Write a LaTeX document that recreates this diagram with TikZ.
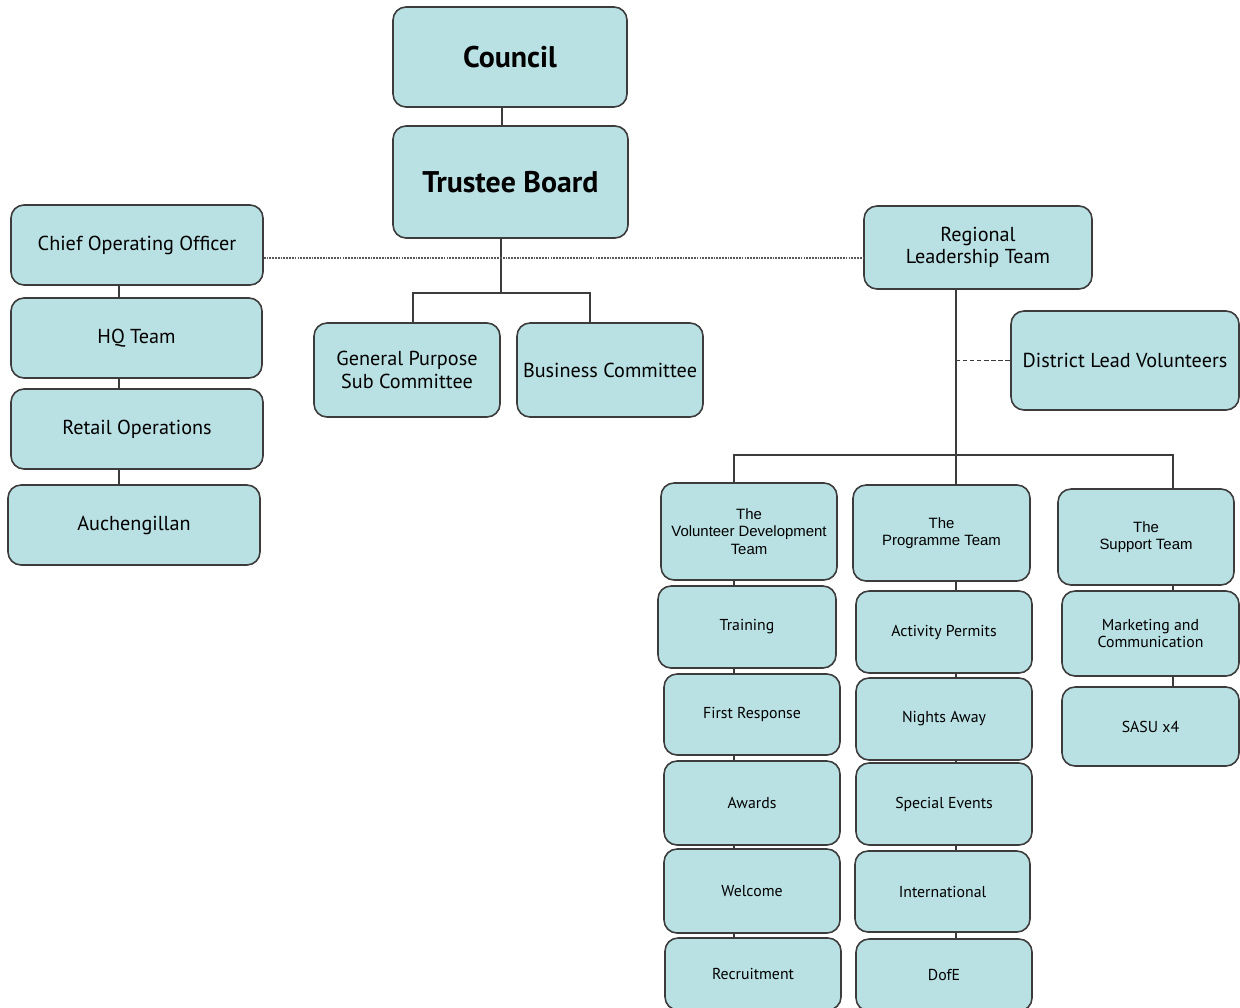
\documentclass[tikz,border=0pt]{standalone}
\usepackage{fontspec}
\setmainfont{PT Sans}
\newfontfamily\arialfont{Liberation Sans}
\definecolor{boxfill}{RGB}{185,224,227}
\definecolor{boxline}{RGB}{60,60,60}

\tikzset{
  box/.style={draw=boxline, fill=boxfill, line width=0.9pt, rounded corners=0.26cm,
    align=center, inner sep=0pt},
  wh/.style 2 args={minimum width=#1*0.02cm, minimum height=#2*0.02cm},
  bigbox/.style={box, font=\fontsize{17}{19}\selectfont\bfseries},
  midbox/.style={box, font=\fontsize{11.5}{12.8}\selectfont},
  smallbox/.style={box, font=\fontsize{9}{10}\selectfont},
  headbox/.style={box, font=\arialfont\fontsize{8.5}{10}\selectfont},
  link/.style={draw=boxline, line width=0.6pt},
  dotline/.style={draw=black!65, line width=0.8pt, dash pattern=on 1pt off 0.6pt},
  dashline/.style={draw=boxline, line width=0.6pt, dash pattern=on 2.5pt off 1.5pt},
}

\begin{document}
\begin{tikzpicture}[x=0.02cm, y=-0.02cm]
\useasboundingbox (0,0) rectangle (1240,1007);
\clip (0,0) rectangle (1240,1007);
%
\coordinate (colT) at (502,0);
\coordinate (colL) at (119,0);
\coordinate (colA) at (734,0);
\coordinate (colB) at (956,0);
\coordinate (colC) at (1173,0);
\coordinate (gpx) at (413,0);
\coordinate (bcx) at (590,0);
\coordinate (fork) at (501,293);
\coordinate (bar) at (956,455);
\coordinate (dotrow) at (0,258);
%
\node[bigbox, wh={234}{100}] (council) at (510,57) {Council};
\node[bigbox, wh={235}{112}] (trustee) at (510.5,182) {Trustee Board};
%
\node[midbox, wh={252}{80}] (coo) at (137,245) {Chief Operating Officer};
\node[midbox, wh={251}{80}] (hq) at (136.5,338) {HQ Team};
\node[midbox, wh={252}{80}] (retail) at (137,429) {Retail Operations};
\node[midbox, wh={252}{80}] (auch) at (134,525) {Auchengillan};
%
\node[midbox, wh={186}{94}] (gp) at (407,370) {General Purpose\\Sub Committee};
\node[midbox, wh={186}{94}] (bc) at (610,370) {Business Committee};
%
\node[midbox, wh={228}{83}] (rlt) at (978,247.5) {Regional\\Leadership Team};
\node[midbox, wh={228}{99}] (dlv) at (1125,360.5) {District Lead Volunteers};
%
\node[headbox, wh={176}{97}] (vdt) at (749,531.5) {The\\Volunteer Development\\Team};
\node[headbox, wh={177}{96}] (prog) at (941.5,533) {The\\Programme Team};
\node[headbox, wh={176}{96}] (supp) at (1146,537) {The\\Support Team};
%
\node[smallbox, wh={178}{82}] (train) at (747,627) {Training};
\node[smallbox, wh={176}{81}] (first) at (752,714.5) {First Response};
\node[smallbox, wh={176}{84}] (awards) at (752,803) {Awards};
\node[smallbox, wh={176}{84}] (welcome) at (752,891) {Welcome};
\node[smallbox, wh={176}{72}] (recruit) at (753,974) {Recruitment};
%
\node[smallbox, wh={176}{82}] (perm) at (944,632) {Activity Permits};
\node[smallbox, wh={176}{82}] (nights) at (944,719) {Nights Away};
\node[smallbox, wh={176}{82}] (special) at (944,804) {Special Events};
\node[smallbox, wh={175}{81}] (intl) at (942.5,891.5) {International};
\node[smallbox, wh={176}{72}] (dofe) at (944,975) {DofE};
%
\node[smallbox, wh={177}{85}] (mkt) at (1150.5,633.5) {Marketing and\\Communication};
\node[smallbox, wh={177}{79}] (sasu) at (1150.5,726.5) {SASU x4};
%
% board links
\draw[link] (council.south -| colT) -- (trustee.north -| colT);
\draw[link] (trustee.south -| fork) -- (fork);
\draw[link] (gp.north -| gpx) |- (fork) -| (bc.north -| bcx);
\draw[dotline] (coo.east |- dotrow) -- (rlt.west |- dotrow);
%
% left column
\draw[link] (coo.south -| colL) -- (hq.north -| colL);
\draw[link] (hq.south -| colL) -- (retail.north -| colL);
\draw[link] (retail.south -| colL) -- (auch.north -| colL);
%
% regional teams
\draw[link] (rlt.south -| colB) -- (prog.north -| colB);
\draw[dashline] (dlv.west -| colB) -- (dlv.west);
\draw[link] (vdt.north -| colA) |- (bar) -| (supp.north -| colC);
%
\draw[link] (vdt.south -| colA) -- (train.north -| colA);
\draw[link] (train.south -| colA) -- (first.north -| colA);
\draw[link] (first.south -| colA) -- (awards.north -| colA);
\draw[link] (awards.south -| colA) -- (welcome.north -| colA);
\draw[link] (welcome.south -| colA) -- (recruit.north -| colA);
%
\draw[link] (prog.south -| colB) -- (perm.north -| colB);
\draw[link] (perm.south -| colB) -- (nights.north -| colB);
\draw[link] (nights.south -| colB) -- (special.north -| colB);
\draw[link] (special.south -| colB) -- (intl.north -| colB);
\draw[link] (intl.south -| colB) -- (dofe.north -| colB);
%
\draw[link] (supp.south -| colC) -- (mkt.north -| colC);
\draw[link] (mkt.south -| colC) -- (sasu.north -| colC);
\end{tikzpicture}
\end{document}
